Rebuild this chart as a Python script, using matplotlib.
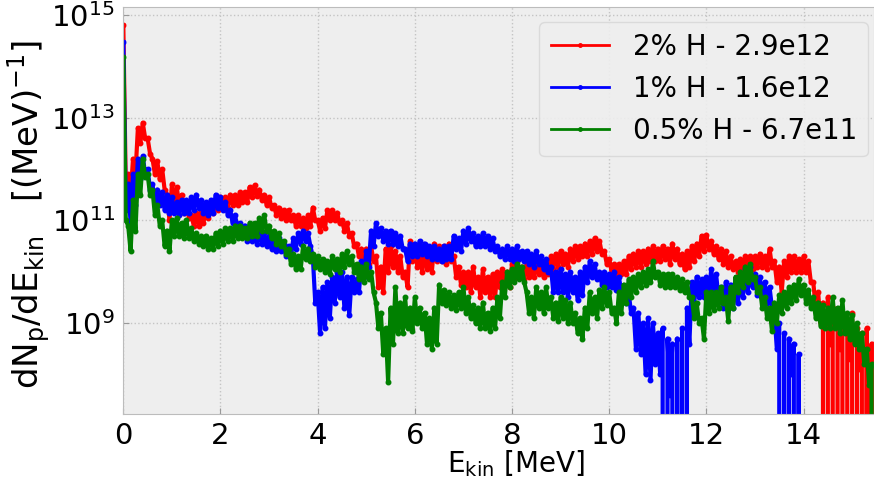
import numpy as np
import matplotlib
matplotlib.use("Agg")
import matplotlib.pyplot as plt
from matplotlib.ticker import FixedLocator, NullLocator

# proton spectra, log10(dN/dE) per 0.1 MeV bin; "hi" is the top of the
# noise band at the bin start, "lo" the bottom at the bin centre.
# a value of 0 marks an empty bin.
E_STEP = 0.1

red_hi = [14.8, 11.9, 12.2, 12.8, 12.9, 12.6, 12.2, 12.15, 12.0, 11.5,
          11.7, 11.65, 11.5, 11.35, 11.1, 11.15, 11.2, 11.3, 11.35, 11.4,
          11.45, 11.45, 11.5, 11.5, 11.55, 11.55, 11.65, 11.68, 11.6, 11.5,
          11.45, 11.3, 11.25, 11.2, 11.2, 11.1, 11.1, 11.05, 11.1, 11.25,
          11.0, 11.05, 11.2, 11.2, 11.15, 11.0, 10.95, 10.75, 10.55, 10.45,
          10.45, 10.5, 10.3, 10.1, 10.45, 10.5, 10.4, 10.3, 10.0, 10.6,
          10.5, 10.4, 10.45, 10.4, 10.55, 10.5, 10.5, 10.55, 10.3, 10.1,
          10.0, 10.0, 10.1, 9.9, 10.05, 9.9, 9.95, 10.0, 10.05, 10.0,
          10.15, 10.2, 10.1, 10.15, 10.1, 10.15, 10.1, 10.15, 10.3, 10.35,
          10.4, 10.35, 10.45, 10.5, 10.5, 10.55, 10.6, 10.65, 10.6, 10.4,
          10.25, 10.15, 10.15, 10.2, 10.3, 10.35, 10.4, 10.4, 10.45, 10.5,
          10.45, 10.5, 10.45, 10.55, 10.45, 10.35, 10.4, 10.5, 10.55, 10.7,
          10.72, 10.6, 10.5, 10.45, 10.4, 10.3, 10.2, 10.25, 10.3, 10.3,
          10.3, 10.35, 10.3, 10.45, 10.2, 10.1, 10.2, 10.3, 10.3, 10.25,
          10.3, 10.2, 9.8, 9.6, 9.4, 9.5, 9.3, 9.2, 9.1, 9.0,
          9.2, 8.9, 8.8, 8.9, 8.6]
red_lo = [11.7, 11.5, 11.9, 12.5, 12.6, 12.3, 11.9, 11.8, 11.6, 11.0,
          11.3, 11.3, 11.15, 11.05, 10.9, 10.9, 10.95, 11.05, 11.15, 11.2,
          11.25, 11.25, 11.3, 11.3, 11.35, 11.35, 11.45, 11.48, 11.4, 11.3,
          11.25, 11.1, 11.05, 11.0, 11.0, 10.9, 10.9, 10.85, 10.9, 11.0,
          10.8, 10.85, 11.0, 11.0, 10.95, 10.8, 10.7, 10.5, 10.3, 10.2,
          10.15, 10.2, 9.7, 9.6, 10.0, 10.1, 10.0, 9.9, 9.7, 10.2,
          10.1, 10.0, 10.05, 10.0, 10.2, 10.2, 10.15, 10.2, 9.9, 9.75,
          9.7, 9.6, 9.7, 9.5, 9.6, 9.5, 9.5, 9.7, 9.75, 9.7,
          9.85, 9.9, 9.85, 9.9, 9.9, 9.95, 9.9, 9.95, 10.05, 10.1,
          10.15, 10.1, 10.2, 10.25, 10.3, 10.3, 10.35, 10.4, 10.35, 10.15,
          10.0, 9.9, 9.95, 9.95, 10.05, 10.1, 10.1, 10.15, 10.2, 10.2,
          10.2, 10.25, 10.15, 10.25, 10.15, 10.05, 10.1, 10.2, 10.3, 10.4,
          10.45, 10.35, 10.25, 10.15, 10.1, 10.05, 10.0, 10.0, 10.05, 10.05,
          10.1, 10.1, 10.05, 10.1, 9.8, 9.6, 9.9, 10.0, 10.0, 10.0,
          10.0, 9.8, 9.3, 9.0, 0, 8.6, 0, 8.5, 0, 8.3,
          0, 8.1, 0, 0, 0]

blue_hi = [14.47, 11.7, 11.9, 12.2, 12.25, 12.0, 11.7, 11.6, 11.55, 11.5,
           11.45, 11.35, 11.4, 11.4, 11.45, 11.5, 11.4, 11.35, 11.4, 11.5,
           11.45, 11.35, 11.2, 11.1, 10.95, 10.9, 10.85, 10.8, 10.8, 10.75,
           10.7, 10.65, 10.65, 10.55, 10.5, 10.65, 10.75, 10.8, 10.75, 10.3,
           9.6, 9.7, 9.8, 9.9, 10.0, 10.0, 9.9, 9.9, 9.85, 10.2,
           10.4, 10.8, 10.95, 10.85, 10.8, 10.8, 10.75, 10.7, 10.45, 10.55,
           10.55, 10.6, 10.55, 10.5, 10.5, 10.45, 10.5, 10.5, 10.7, 10.65,
           10.8, 10.85, 10.75, 10.7, 10.75, 10.7, 10.65, 10.5, 10.45, 10.5,
           10.45, 10.5, 10.4, 10.4, 10.35, 10.4, 10.3, 10.25, 10.1, 10.0,
           10.05, 9.95, 10.0, 9.9, 10.0, 10.1, 10.2, 10.15, 10.0, 10.0,
           9.95, 10.0, 9.9, 9.7, 9.6, 9.3, 9.2, 9.0, 9.1, 9.0,
           8.8, 8.9, 8.7, 8.6, 8.7, 8.9, 9.3, 9.8, 9.9, 9.85,
           9.9, 10.05, 9.95, 9.7, 9.8, 9.75, 9.85, 9.9, 10.05, 10.1,
           9.95, 9.9, 9.8, 9.7, 9.2, 9.0, 8.8, 8.7, 8.6, 8.4,
           0, 0, 0, 0, 0, 0, 0, 0, 0, 0,
           0, 0, 0, 0, 0]
blue_lo = [11.2, 10.95, 11.3, 11.8, 11.9, 11.6, 11.35, 11.3, 11.2, 11.15,
           11.15, 11.1, 11.15, 11.15, 11.2, 11.25, 11.15, 11.1, 11.15, 11.25,
           11.2, 11.1, 10.95, 10.85, 10.7, 10.6, 10.6, 10.55, 10.55, 10.5,
           10.45, 10.4, 10.4, 10.3, 10.3, 10.45, 10.55, 10.6, 10.5, 9.4,
           8.8, 8.9, 9.1, 9.4, 9.5, 9.3, 9.15, 9.6, 9.6, 9.9,
           10.1, 10.5, 10.7, 10.6, 10.55, 10.55, 10.5, 10.45, 10.2, 10.3,
           10.3, 10.35, 10.3, 10.25, 10.25, 10.2, 10.25, 10.25, 10.45, 10.4,
           10.55, 10.6, 10.5, 10.5, 10.5, 10.45, 10.4, 10.3, 10.25, 10.25,
           10.2, 10.25, 10.2, 10.15, 10.1, 10.15, 10.05, 10.0, 9.6, 9.6,
           9.6, 9.5, 9.6, 9.45, 9.55, 9.8, 9.9, 9.85, 9.75, 9.7,
           9.7, 9.65, 9.6, 9.4, 9.2, 8.5, 8.4, 8.0, 7.9, 8.2,
           8.0, 0, 7.6, 0, 0, 0, 8.6, 9.4, 9.5, 9.5,
           9.55, 9.6, 9.5, 9.3, 9.4, 9.3, 9.4, 9.5, 9.6, 9.7,
           9.55, 9.5, 9.4, 9.3, 8.5, 0, 0, 8.0, 0, 0,
           0, 0, 0, 0, 0, 0, 0, 0, 0, 0,
           0, 0, 0, 0, 0]

green_hi = [14.18, 10.9, 11.4, 11.9, 12.2, 11.9, 11.6, 11.3, 11.0, 10.8,
            11.0, 11.05, 10.95, 11.0, 10.85, 10.75, 10.7, 10.7, 10.65, 10.75,
            10.8, 10.85, 10.85, 10.9, 10.9, 10.85, 10.95, 10.95, 11.05, 11.1,
            10.9, 10.8, 10.75, 10.6, 10.45, 10.35, 10.3, 10.5, 10.45, 10.35,
            10.3, 10.25, 10.2, 10.3, 10.25, 10.35, 10.4, 10.3, 10.15, 10.1,
            10.15, 10.0, 9.4, 9.2, 8.9, 9.3, 9.7, 9.4, 9.5, 9.3,
            9.5, 9.3, 9.2, 9.1, 9.3, 9.75, 9.65, 9.6, 9.55, 9.6,
            9.7, 9.5, 9.35, 9.3, 9.4, 9.2, 9.3, 9.5, 9.8, 10.0,
            10.05, 10.15, 10.1, 9.6, 9.5, 9.7, 9.6, 9.7, 9.5, 9.4,
            9.5, 9.45, 9.4, 9.2, 9.1, 9.3, 9.6, 9.5, 9.65, 9.7,
            9.6, 9.3, 9.6, 9.75, 9.85, 9.9, 9.95, 10.0, 10.05, 10.2,
            10.0, 9.95, 9.95, 9.95, 9.9, 9.85, 9.8, 9.5, 9.4, 9.1,
            9.6, 9.6, 9.6, 9.7, 9.5, 9.7, 9.9, 10.0, 10.1, 10.15,
            9.9, 9.7, 9.5, 9.3, 9.4, 9.55, 9.6, 9.7, 9.75, 9.85,
            9.75, 9.65, 9.5, 9.4, 9.35, 9.3, 9.5, 9.3, 9.45, 9.2,
            9.15, 9.0, 8.8, 8.5, 8.2]
green_lo = [11.0, 10.4, 10.8, 11.5, 11.85, 11.5, 11.1, 10.9, 10.5, 10.4,
            10.7, 10.7, 10.65, 10.65, 10.6, 10.55, 10.5, 10.45, 10.45, 10.5,
            10.55, 10.6, 10.6, 10.65, 10.65, 10.65, 10.7, 10.7, 10.8, 10.8,
            10.65, 10.55, 10.5, 10.35, 10.15, 10.05, 10.05, 10.25, 10.2, 10.1,
            10.05, 10.0, 9.95, 10.05, 10.0, 10.1, 10.15, 10.0, 9.85, 9.8,
            9.85, 9.6, 8.9, 8.4, 7.85, 8.6, 8.8, 8.8, 8.9, 8.85,
            9.0, 8.9, 8.6, 8.5, 8.6, 9.4, 9.35, 9.3, 9.25, 9.3,
            9.2, 9.1, 9.0, 8.9, 8.9, 8.85, 8.9, 9.1, 9.5, 9.7,
            9.8, 9.85, 9.8, 9.2, 9.1, 9.3, 9.2, 9.3, 9.1, 9.05,
            9.1, 9.0, 9.0, 8.8, 8.7, 8.9, 9.2, 9.1, 9.3, 9.35,
            9.2, 9.0, 9.2, 9.4, 9.5, 9.6, 9.7, 9.75, 9.8, 9.9,
            9.75, 9.7, 9.7, 9.7, 9.65, 9.6, 9.5, 9.1, 9.0, 8.7,
            9.2, 9.25, 9.3, 9.4, 9.05, 9.3, 9.6, 9.7, 9.8, 9.85,
            9.6, 9.3, 9.1, 8.85, 9.0, 9.2, 9.3, 9.4, 9.45, 9.55,
            9.4, 9.3, 9.1, 8.95, 8.9, 8.9, 8.9, 8.8, 8.8, 8.7,
            8.6, 8.5, 8.2, 7.8, 0]

labels = ["2% H - 2.9e12", "1% H - 1.6e12", "0.5% H - 6.7e11"]
colors = ["#ff0000", "#0000ff", "#008000"]


def spectrum(hi, lo):
    n = len(hi)
    e = np.empty(2 * n)
    e[0::2] = np.arange(n) * E_STEP
    e[1::2] = np.arange(n) * E_STEP + E_STEP / 2
    v = np.empty(2 * n)
    v[0::2] = hi
    v[1::2] = lo
    y = np.where(v > 0, 10.0 ** v, 0.0)
    return e, y


plt.rcParams.update({
    "font.family": "DejaVu Sans",
    "mathtext.default": "regular",
    "font.size": 21,
})

fig = plt.figure(figsize=(8.74, 4.88), dpi=100)
ax = fig.add_axes([0.1411, 0.1516, 0.8589, 0.834])
ax.set_facecolor("#eeeeee")

series = [(red_hi, red_lo), (blue_hi, blue_lo), (green_hi, green_lo)]
for (hi, lo), lab, c in zip(series, labels, colors):
    e, y = spectrum(hi, lo)
    ax.plot(e, y, ".-", color=c, lw=3, ms=6.5, label=lab)

ax.set_yscale("log")
ax.set_xlim(0, 15.45)
ax.set_ylim(10 ** 7.23, 10 ** 15.155)
ax.yaxis.set_major_locator(FixedLocator([1e9, 1e11, 1e13, 1e15]))
ax.yaxis.set_minor_locator(NullLocator())
ax.set_xticks(range(0, 16, 2))

ax.grid(True, color="#c4c4c4", ls=":", lw=1)
ax.set_axisbelow(True)
for s in ax.spines.values():
    s.set_color("#bcbcbc")
    s.set_linewidth(0.8)
ax.tick_params(direction="in", length=4, color="#999999", labelsize=21, pad=6)

ax.set_xlabel("E$_{kin}$ [MeV]", fontsize=20)
ax.xaxis.set_label_coords(0.523, -0.085)
ax.set_ylabel("dN$_{p}$/dE$_{kin}$   [(MeV)$^{-1}$]", fontsize=24.5)
ax.yaxis.set_label_coords(-0.095, 0.49)

leg = ax.legend(loc="upper right", bbox_to_anchor=(0.992, 0.963),
                borderaxespad=0, fontsize=20, numpoints=1, fancybox=True,
                framealpha=0.9, handlelength=2.1, handletextpad=0.85)
leg.get_frame().set_facecolor("#eeeeee")
leg.get_frame().set_edgecolor("#d8d8d8")
for h in leg.get_lines():
    h.set_linewidth(2)
    h.set_markersize(5)

fig.savefig("out.png", dpi=100)
